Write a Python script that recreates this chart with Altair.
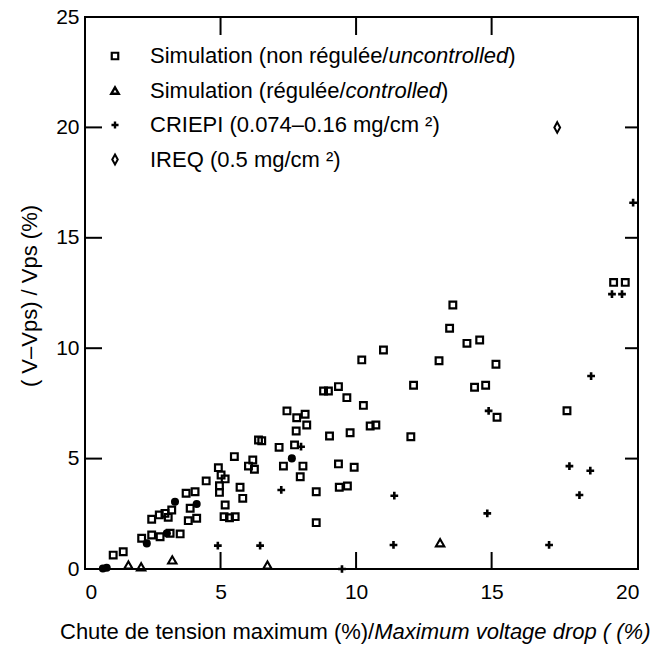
import altair as alt
import pandas as pd

FONT = "Liberation Sans"

# Simulation (non régulée / uncontrolled) — hollow squares
sq_x = [1.04, 1.41, 2.09, 2.46, 2.77, 3.14, 3.51, 2.46, 2.74, 2.95, 3.07, 3.2,
        3.73, 4.06, 3.88, 3.81, 4.12, 4.47, 4.92, 5.02, 5.17, 4.96, 4.96, 5.17,
        5.13, 5.33, 5.54, 5.51, 5.72, 5.82, 6.03, 6.19, 6.25, 6.4, 6.52, 7.16,
        7.45, 7.32, 7.81, 7.79, 7.73, 8.12, 8.18, 8.04, 7.94, 8.53, 8.53, 8.8,
        8.98, 9.35, 9.66, 9.02, 9.78, 9.35, 9.93, 9.38, 9.68, 13.57, 13.45,
        14.09, 14.56, 13.06, 15.16, 11.01, 10.21, 12.12, 14.37, 14.78, 15.2,
        10.27, 10.52, 10.73, 12.02, 17.78, 19.5, 19.93]
sq_y = [0.63, 0.78, 1.39, 1.54, 1.46, 1.62, 1.59, 2.25, 2.45, 2.52, 2.34, 2.67,
        3.43, 3.5, 2.75, 2.19, 2.3, 3.99, 4.59, 4.26, 4.08, 3.77, 3.47, 2.9,
        2.37, 2.32, 2.37, 5.09, 3.7, 3.2, 4.66, 4.94, 4.52, 5.84, 5.81, 5.51,
        7.16, 4.66, 6.85, 6.25, 5.62, 7.01, 6.52, 4.66, 4.18, 3.5, 2.1, 8.06,
        8.06, 8.26, 7.76, 6.02, 6.17, 4.76, 4.61, 3.7, 3.76, 11.96, 10.9,
        10.22, 10.37, 9.43, 9.27, 9.92, 9.47, 8.32, 8.23, 8.32, 6.87,
        7.41, 6.48, 6.52, 5.99, 7.17, 12.98, 12.98]

# overlapping simulation points that print as solid blobs
blob_x = [0.66, 0.8, 2.28, 3.02, 3.32, 4.12, 7.63]
blob_y = [0.02, 0.06, 1.16, 1.62, 3.05, 2.94, 5.01]

# Simulation (régulée / controlled) — triangles
tri_x = [1.6, 2.07, 3.22, 6.73, 13.1]
tri_y = [0.18, 0.1, 0.41, 0.18, 1.19]

# CRIEPI — crosses
cr_x = [7.97, 7.24, 4.9, 6.46, 9.48, 20.22, 19.44, 19.81, 18.67, 14.89, 17.87,
        18.64, 18.24, 11.41, 14.84, 11.38, 17.12]
cr_y = [5.54, 3.58, 1.06, 1.06, 0.0, 16.59, 12.45, 12.45, 8.74, 7.16, 4.66,
        4.45, 3.35, 3.32, 2.52, 1.09, 1.09]

# IREQ — diamond
dia_x = [17.42]
dia_y = [20.0]

x_ticks = [0, 5, 10, 15, 20]
y_ticks = [0, 5, 10, 15, 20, 25]
inner_x_ticks = [5, 10, 15]
inner_y_ticks = [5, 10, 15, 20]

W, H = 553, 552
x_scale = alt.Scale(domain=[0, 20.4], nice=False, zero=False)
y_scale = alt.Scale(domain=[0, 25], nice=False, zero=False)

CROSS = "M-1,0H1M0,-1V1"
DIAMOND = "M0,-1L0.55,0L0,1L-0.55,0Z"

x_axis = alt.Axis(values=x_ticks, format="d", ticks=False, domain=False, grid=False,
                  title=None, labelFontSize=21, labelFont=FONT, labelColor="black",
                  labelPadding=12, labelAngle=0)
y_axis = alt.Axis(values=y_ticks, format="d", ticks=False, domain=False, grid=False,
                  title=None, labelFontSize=21, labelFont=FONT, labelColor="black",
                  labelPadding=6)


def pts(xs, ys, shape, size, filled, sw):
    df = pd.DataFrame({"x": xs, "y": ys})
    return alt.Chart(df).mark_point(shape=shape, size=size, filled=filled,
                                    strokeWidth=sw, color="black", opacity=1).encode(
        x=alt.X("x:Q", scale=x_scale, axis=x_axis),
        y=alt.Y("y:Q", scale=y_scale, axis=y_axis),
    )


squares = pts(sq_x, sq_y, "square", 45, False, 2.2)
blobs = pts(blob_x, blob_y, "circle", 65, True, 1)
triangles = pts(tri_x, tri_y, "triangle-up", 70, False, 2.1)
crosses = pts(cr_x, cr_y, CROSS, 60, False, 2.6)
diamonds = pts(dia_x, dia_y, DIAMOND, 110, False, 2.0)

# inward frame ticks
ydf = pd.DataFrame({"v": inner_y_ticks})
xdf = pd.DataFrame({"v": inner_x_ticks})
left_ticks = alt.Chart(ydf).mark_rule(color="black", strokeWidth=2).encode(
    y=alt.Y("v:Q", scale=y_scale, axis=y_axis), x=alt.value(0), x2=alt.value(17))
right_ticks = alt.Chart(ydf).mark_rule(color="black", strokeWidth=2).encode(
    y=alt.Y("v:Q", scale=y_scale, axis=y_axis), x=alt.value(W - 13), x2=alt.value(W))
bottom_ticks = alt.Chart(xdf).mark_rule(color="black", strokeWidth=2).encode(
    x=alt.X("v:Q", scale=x_scale, axis=x_axis), y=alt.value(H), y2=alt.value(H - 17))
top_ticks = alt.Chart(xdf).mark_rule(color="black", strokeWidth=2).encode(
    x=alt.X("v:Q", scale=x_scale, axis=x_axis), y=alt.value(0), y2=alt.value(18))


def txt(s, x, y, italic=False, align="left", angle=0, size=22):
    return alt.Chart(pd.DataFrame({"t": [s]})).mark_text(
        align=align, baseline="middle", font=FONT, fontSize=size,
        fontStyle="italic" if italic else "normal", angle=angle, color="black"
    ).encode(text="t:N", x=alt.value(x), y=alt.value(y))


def sym(shape, size, filled, sw, x, y):
    return alt.Chart(pd.DataFrame({"k": [0]})).mark_point(
        shape=shape, size=size, filled=filled, strokeWidth=sw, color="black", opacity=1
    ).encode(x=alt.value(x), y=alt.value(y))


# legend (drawn inside the plot, upper left)
LX, TX = 30, 65
R = [39, 73.5, 108, 142.5]
legend = [
    sym("square", 42, False, 2.2, LX, R[0]),
    txt("Simulation (non régulée/", TX, R[0]),
    txt("uncontrolled", TX + 238.4, R[0], italic=True),
    txt(")", TX + 238.4 + 119.8, R[0]),
    sym("triangle-up", 55, False, 2.4, LX, R[1]),
    txt("Simulation (régulée/", TX, R[1]),
    txt("controlled", TX + 195.6, R[1], italic=True),
    txt(")", TX + 195.6 + 95.4, R[1]),
    sym(CROSS, 50, False, 2.4, LX, R[2]),
    txt("CRIEPI (0.074–0.16 mg/cm ²)", TX, R[2]),
    sym(DIAMOND, 100, False, 2.0, LX, R[3]),
    txt("IREQ (0.5 mg/cm ²)", TX, R[3]),
]

titles = [
    txt("( V–Vps) / Vps (%)", -55, 279, align="center", angle=270),
    txt("Chute de tension maximum (%)/", -25, 615),
    txt("Maximum voltage drop ( (%)", -25 + 314.2, 615, italic=True),
]

chart = alt.layer(
    squares, blobs, triangles, crosses, diamonds,
    left_ticks, right_ticks, bottom_ticks, top_ticks,
    *legend, *titles
).properties(
    width=W, height=H,
    autosize=alt.AutoSizeParams(type="none"),
    padding={"left": 85, "top": 17, "right": 16, "bottom": 77},
    background="white",
).configure_view(stroke="black", strokeWidth=2)

chart.save("out.html", embed_options={"renderer": "svg", "actions": False})
